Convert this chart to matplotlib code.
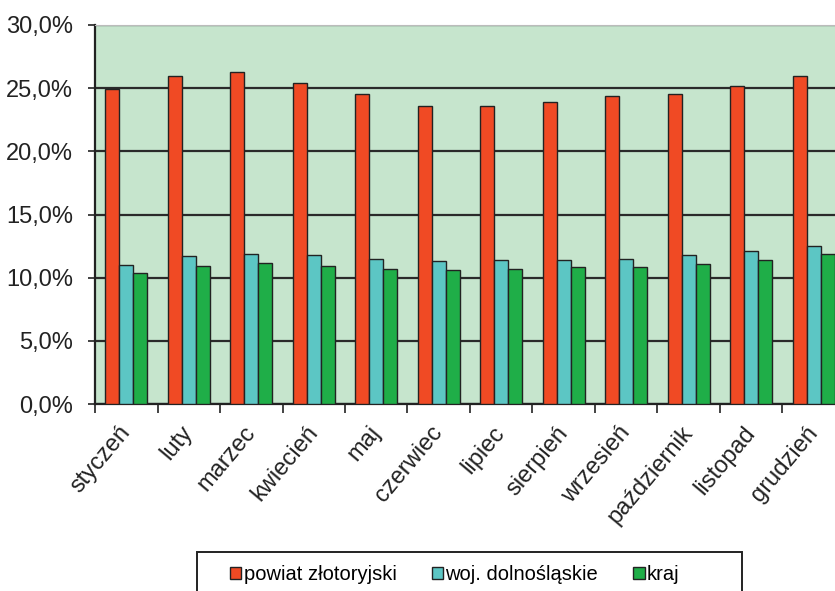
import numpy as np
import matplotlib.pyplot as plt
from matplotlib.patches import Rectangle
from matplotlib.ticker import FuncFormatter

plt.rcParams['font.family'] = ['Liberation Sans', 'DejaVu Sans']

# stopa bezrobocia w kolejnych miesiącach
miesiace = ['styczeń', 'luty', 'marzec', 'kwiecień', 'maj', 'czerwiec',
            'lipiec', 'sierpień', 'wrzesień', 'październik', 'listopad', 'grudzień']
powiat = [24.9, 26.0, 26.3, 25.4, 24.5, 23.6, 23.6, 23.9, 24.4, 24.5, 25.2, 26.0]
wojewodztwo = [11.0, 11.7, 11.9, 11.8, 11.5, 11.3, 11.4, 11.4, 11.5, 11.8, 12.1, 12.5]
kraj = [10.4, 10.9, 11.2, 10.9, 10.7, 10.6, 10.7, 10.85, 10.85, 11.1, 11.4, 11.9]
nazwy = ['powiat złotoryjski', 'woj. dolnośląskie', 'kraj']
kolory = ['#f04a24', '#5cc6c4', '#1fae48']

W, H = 835, 591
fig = plt.figure(figsize=(W / 100, H / 100), dpi=100)
# os wychodzi poza prawa krawedz rysunku
ax = fig.add_axes([95 / W, (H - 404) / H, 750 / W, 379 / H])
ax.set_facecolor('#c6e5cd')

x = np.arange(len(miesiace))
szer = 0.224
for i, (dane, kol, nazwa) in enumerate(zip([powiat, wojewodztwo, kraj], kolory, nazwy)):
    ax.bar(x + (i - 1) * szer, dane, szer, color=kol, edgecolor='#222222',
           linewidth=1.0, label=nazwa, zorder=3)

ax.set_xlim(-0.5, len(miesiace) - 0.5)
ax.set_ylim(0, 30)
ax.set_yticks(np.arange(0, 31, 5))
ax.yaxis.set_major_formatter(FuncFormatter(lambda v, p: f'{v:.1f}%'.replace('.', ',')))
ax.grid(axis='y', color='#2a2a2a', linewidth=1.6, zorder=1)

# podzialki osi X na granicach grup, podpisy miesiecy na srodkach
ax.set_xticks(np.arange(len(miesiace) + 1) - 0.5)
ax.set_xticklabels([])
ax.set_xticks(x, minor=True)
ax.set_xticklabels(miesiace, minor=True, rotation=50, ha='right', va='center',
                   rotation_mode='anchor', fontsize=17, color='#222222')
ax.tick_params(axis='x', which='minor', length=0, pad=18)
ax.tick_params(axis='x', which='major', length=6.5, width=1.2, color='#222222')
ax.tick_params(axis='y', length=5, width=1.2, color='#222222', pad=11,
               labelsize=17, labelcolor='#222222')

for s in ['left', 'bottom']:
    ax.spines[s].set_color('#222222')
    ax.spines[s].set_linewidth(1.6)
ax.spines['top'].set_color('#bbbbbb')
ax.spines['right'].set_visible(False)

# ramka legendy (dolna krawedz poza rysunkiem)
fig.patches.append(Rectangle((197 / W, -0.05), (742 - 197) / W, 0.05 + 1 - 552 / H,
                             transform=fig.transFigure, facecolor='white',
                             edgecolor='#222222', linewidth=1.4, zorder=5))
leg = fig.legend(loc='center', bbox_to_anchor=(455 / W, 1 - 575 / H), ncol=3,
                 fontsize=14.5, frameon=False,
                 handlelength=0.55, handleheight=0.55, handletextpad=0.12,
                 columnspacing=1.75, borderpad=0, borderaxespad=0)
leg.set_zorder(6)

fig.savefig('out.png', dpi=100)
